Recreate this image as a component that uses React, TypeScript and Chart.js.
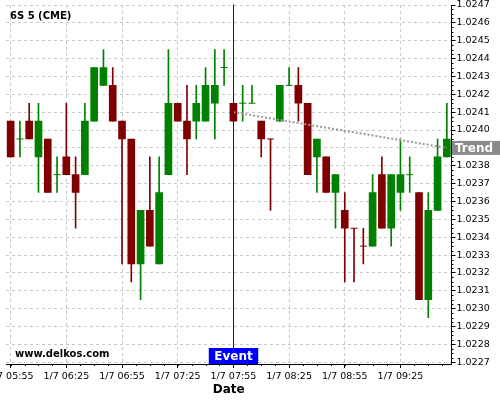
import React, { useEffect, useRef } from 'react';
import { Chart, registerables } from 'chart.js';

Chart.register(...registerables);

const TITLE = '6S 5 (CME)';
const WATERMARK = 'www.delkos.com';
const DATE_PREFIX = '1/7 ';

const LABELS = [
  '05:55', '06:00', '06:05', '06:10', '06:15', '06:20', '06:25', '06:30', '06:35', '06:40', '06:45', '06:50',
  '06:55', '07:00', '07:05', '07:10', '07:15', '07:20', '07:25', '07:30', '07:35', '07:40', '07:45', '07:50',
  '07:55', '08:00', '08:05', '08:10', '08:15', '08:20', '08:25', '08:30', '08:35', '08:40', '08:45', '08:50',
  '08:55', '09:00', '09:05', '09:10', '09:15', '09:20', '09:25', '09:30', '09:35', '09:40', '09:45', '09:50',
];

const OPEN = [
  1.02405, 1.02395, 1.02405, 1.02385, 1.02395, 1.02375, 1.02385, 1.02375, 1.02375, 1.02405, 1.02425, 1.02425,
  1.02405, 1.02395, 1.02325, 1.02355, 1.02325, 1.02375, 1.02415, 1.02405, 1.02405, 1.02405, 1.02415, 1.02435,
  1.02415, 1.02415, 1.02415, 1.02405, 1.02395, 1.02405, 1.02425, 1.02425, 1.02415, 1.02385, 1.02385, 1.02365,
  1.02355, 1.02345, 1.02335, 1.02335, 1.02375, 1.02345, 1.02365, 1.02375, 1.02365, 1.02305, 1.02355, 1.02385,
];
const HIGH = [
  1.02405, 1.02405, 1.02415, 1.02415, 1.02395, 1.02385, 1.02415, 1.02385, 1.02415, 1.02435, 1.02445, 1.02435,
  1.02405, 1.02395, 1.02355, 1.02385, 1.02385, 1.02445, 1.02415, 1.02425, 1.02425, 1.02435, 1.02445, 1.02445,
  1.02415, 1.02425, 1.02425, 1.02405, 1.02395, 1.02425, 1.02435, 1.02435, 1.02415, 1.02395, 1.02385, 1.02375,
  1.02365, 1.02345, 1.02345, 1.02375, 1.02385, 1.02375, 1.02395, 1.02385, 1.02365, 1.02365, 1.02395, 1.02415,
];
const LOW = [
  1.02385, 1.02385, 1.02395, 1.02365, 1.02365, 1.02365, 1.02375, 1.02345, 1.02375, 1.02405, 1.02425, 1.02405,
  1.02325, 1.02315, 1.02305, 1.02335, 1.02325, 1.02375, 1.02405, 1.02375, 1.02395, 1.02405, 1.02395, 1.02425,
  1.02405, 1.02405, 1.02415, 1.02385, 1.02355, 1.02405, 1.02425, 1.02405, 1.02375, 1.02365, 1.02365, 1.02345,
  1.02315, 1.02315, 1.02325, 1.02335, 1.02345, 1.02335, 1.02355, 1.02365, 1.02305, 1.02295, 1.02355, 1.02385,
];
const CLOSE = [
  1.02385, 1.02395, 1.02395, 1.02405, 1.02365, 1.02375, 1.02375, 1.02365, 1.02405, 1.02435, 1.02435, 1.02405,
  1.02395, 1.02325, 1.02355, 1.02335, 1.02365, 1.02415, 1.02405, 1.02395, 1.02415, 1.02425, 1.02425, 1.02435,
  1.02405, 1.02415, 1.02415, 1.02395, 1.02395, 1.02425, 1.02425, 1.02415, 1.02375, 1.02395, 1.02365, 1.02375,
  1.02345, 1.02345, 1.02335, 1.02365, 1.02345, 1.02375, 1.02375, 1.02375, 1.02305, 1.02355, 1.02385, 1.02395,
];

const X_TICK_LABELS = ['05:55', '06:25', '06:55', '07:25', '07:55', '08:25', '08:55', '09:25'];
const Y_TICKS = [
  1.0227, 1.0228, 1.0229, 1.023, 1.0231, 1.0232, 1.0233, 1.0234, 1.0235, 1.0236, 1.0237,
  1.0238, 1.0239, 1.024, 1.0241, 1.0242, 1.0243, 1.0244, 1.0245, 1.0246, 1.0247,
];
const Y_MIN = 1.02269;
const Y_MAX = 1.0247;

const EVENT_TIME = '07:55';
const EVENT_TEXT = 'Event';
const TREND_TEXT = 'Trend';
const TREND_POINTS = [
  { x: '07:55', y: 1.0241 },
  { x: '09:50', y: 1.0239 },
];

const UP_COLOR = '#008000';
const DOWN_COLOR = '#800000';
const FONT = 'DejaVu Sans';

// direction of each candle (doji: compare with previous close, else keep previous direction)
const UP: boolean[] = [];
for (let i = 0; i < OPEN.length; i++) {
  if (CLOSE[i] > OPEN[i]) UP.push(true);
  else if (CLOSE[i] < OPEN[i]) UP.push(false);
  else if (i > 0 && CLOSE[i] > CLOSE[i - 1]) UP.push(true);
  else if (i > 0 && CLOSE[i] < CLOSE[i - 1]) UP.push(false);
  else UP.push(i > 0 ? UP[i - 1] : true);
}
const COLORS = UP.map((u) => (u ? UP_COLOR : DOWN_COLOR));

const overlayPlugin = {
  id: 'overlay',
  beforeDatasetsDraw(chart: any) {
    const { ctx, chartArea } = chart;
    ctx.save();
    ctx.fillStyle = '#000';
    ctx.textBaseline = 'middle';
    ctx.textAlign = 'left';
    ctx.font = `bold 10px "${FONT}"`;
    ctx.fillText(TITLE, chartArea.left + 4, chartArea.top + 11);
    ctx.fillText(WATERMARK, chartArea.left + 9, chartArea.bottom - 9.5);
    ctx.restore();
  },
  afterDatasetsDraw(chart: any) {
    const { ctx, chartArea, scales } = chart;
    const x = scales.x;
    const ex = Math.round(x.getPixelForValue(LABELS.indexOf(EVENT_TIME))) + 0.5;
    ctx.save();
    ctx.strokeStyle = '#0000ff';
    ctx.lineWidth = 1;
    ctx.beginPath();
    ctx.moveTo(ex, chartArea.top - 0.5);
    ctx.lineTo(ex, chartArea.bottom);
    ctx.stroke();
    // event label
    ctx.font = `bold 12px "${FONT}"`;
    const tw = ctx.measureText(EVENT_TEXT).width;
    const bw = tw + 11;
    const bh = 16;
    ctx.fillStyle = '#0000ff';
    ctx.fillRect(ex - bw / 2, chartArea.bottom - bh, bw, bh);
    ctx.fillStyle = '#fff';
    ctx.textAlign = 'center';
    ctx.textBaseline = 'middle';
    ctx.fillText(EVENT_TEXT, ex, chartArea.bottom - bh / 2 + 0.5);
    ctx.restore();
  },
  afterDraw(chart: any) {
    const { ctx, chartArea, scales } = chart;
    const x = scales.x;
    const y = scales.y;
    ctx.save();
    ctx.strokeStyle = '#000';
    ctx.lineWidth = 1;
    ctx.beginPath();
    // minor x ticks
    const x0 = x.getPixelForValue(0);
    const step = x.getPixelForValue(1) - x0;
    for (let k = 0; x0 + k * 1.5 * step <= chartArea.right; k++) {
      const px = Math.round(x0 + k * 1.5 * step) + 0.5;
      ctx.moveTo(px, chartArea.bottom);
      ctx.lineTo(px, chartArea.bottom + 2);
    }
    // minor y ticks
    for (let j = 0; j < Y_TICKS.length - 1; j++) {
      for (let m = 1; m < 4; m++) {
        const v = Y_TICKS[j] + ((Y_TICKS[j + 1] - Y_TICKS[j]) * m) / 4;
        const py = Math.round(y.getPixelForValue(v)) + 0.5;
        ctx.moveTo(chartArea.right, py);
        ctx.lineTo(chartArea.right + 2, py);
      }
    }
    ctx.stroke();
    // trend label
    const last = TREND_POINTS[TREND_POINTS.length - 1];
    const ty = y.getPixelForValue(last.y);
    const bh = 14;
    ctx.fillStyle = '#8a8a8a';
    ctx.fillRect(chartArea.right + 0.5, ty - bh / 2, chart.width - chartArea.right, bh);
    ctx.fillStyle = '#fff';
    ctx.font = `bold 12px "${FONT}"`;
    ctx.textAlign = 'left';
    ctx.textBaseline = 'middle';
    ctx.fillText(TREND_TEXT, chartArea.right + 3.5, ty + 0.5);
    ctx.restore();
  },
};

export default function App() {
  const canvasRef = useRef<HTMLCanvasElement | null>(null);

  useEffect(() => {
    if (!canvasRef.current) return;
    Chart.defaults.font.family = FONT;

    const bodies = OPEN.map((o, i) => (o === CLOSE[i] ? null : [o, CLOSE[i]]));
    const wicks = LOW.map((l, i) => [l, HIGH[i]]);
    const dojis = OPEN.map((o, i) => (o === CLOSE[i] ? o : null));

    const chart = new Chart(canvasRef.current, {
      type: 'bar',
      data: {
        labels: LABELS,
        datasets: [
          {
            type: 'line',
            data: TREND_POINTS as any,
            borderColor: '#999999',
            borderWidth: 2,
            borderDash: [2, 2],
            pointRadius: 0,
            fill: false,
            order: 0,
          } as any,
          {
            type: 'line',
            data: dojis as any,
            showLine: false,
            pointStyle: 'line',
            pointRadius: 3.5,
            pointBorderWidth: 1,
            pointBorderColor: COLORS,
            pointBackgroundColor: COLORS,
            order: 1,
          } as any,
          {
            type: 'bar',
            data: bodies as any,
            backgroundColor: COLORS,
            barThickness: 7,
            grouped: false,
            order: 2,
          } as any,
          {
            type: 'bar',
            data: wicks as any,
            backgroundColor: COLORS,
            barThickness: 1,
            grouped: false,
            order: 3,
          } as any,
        ],
      },
      options: {
        animation: false,
        responsive: false,
        events: [],
        layout: { padding: { left: 6, top: 4.5, right: 0, bottom: 0 } },
        plugins: {
          legend: { display: false },
          tooltip: { enabled: false },
        },
        scales: {
          x: {
            type: 'category',
            offset: true,
            afterBuildTicks: (scale: any) => {
              scale.ticks = scale.ticks.filter((t: any) => X_TICK_LABELS.includes(LABELS[t.value]));
            },
            afterFit: (scale: any) => {
              scale.height = 36;
              scale.paddingLeft = 0;
              scale.paddingRight = 0;
            },
            grid: {
              offset: false,
              color: '#c8c8c8',
              tickColor: '#000',
              tickLength: 4,
              tickBorderDash: [],
            },
            border: { display: true, color: '#000', width: 1, dash: [3, 3] },
            ticks: {
              autoSkip: false,
              maxRotation: 0,
              padding: 3,
              color: '#000',
              font: { size: 9.5 },
              callback: (v: any) => DATE_PREFIX + LABELS[v],
            },
            title: {
              display: true,
              text: 'Date',
              color: '#000',
              font: { size: 12, weight: 'bold' },
              padding: { top: 0, bottom: 3 },
            },
          },
          y: {
            type: 'linear',
            position: 'right',
            min: Y_MIN,
            max: Y_MAX,
            afterBuildTicks: (scale: any) => {
              scale.ticks = Y_TICKS.map((v) => ({ value: v }));
            },
            afterFit: (scale: any) => {
              scale.width = 48.5;
              scale.paddingTop = 0;
              scale.paddingBottom = 0;
            },
            grid: {
              color: '#c8c8c8',
              tickColor: '#000',
              tickLength: 4,
              tickBorderDash: [],
            },
            border: { display: true, color: '#000', width: 1, dash: [3, 3] },
            ticks: {
              padding: 1,
              color: '#000',
              font: { size: 9.5 },
              callback: (v: any) => Number(v).toFixed(4),
            },
          },
        },
      } as any,
      plugins: [overlayPlugin],
    });

    return () => chart.destroy();
  }, []);

  return (
    <div style={{ position: 'absolute', left: 0, top: 0, width: 500, height: 400, background: '#fff' }}>
      <canvas ref={canvasRef} width={500} height={400} style={{ display: 'block' }} />
    </div>
  );
}
